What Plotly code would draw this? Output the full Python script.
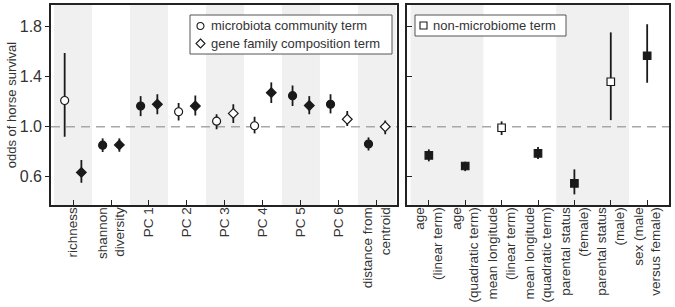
import plotly.graph_objects as go

# ---------------- data ----------------
micro_labels = ["richness", "shannon<br>diversity", "PC 1", "PC 2", "PC 3", "PC 4",
                "PC 5", "PC 6", "distance from<br>centroid"]
microbiota_est = [1.21, 0.853, 1.166, 1.12, 1.045, 1.008, 1.249, 1.18, 0.862]
microbiota_lo = [0.92, 0.798, 1.085, 1.05, 0.98, 0.947, 1.166, 1.107, 0.81]
microbiota_hi = [1.59, 0.907, 1.245, 1.19, 1.10, 1.08, 1.33, 1.26, 0.915]
microbiota_sig = [0, 1, 1, 0, 0, 0, 1, 1, 1]

gene_est = [0.635, 0.855, 1.18, 1.166, 1.107, 1.273, 1.17, 1.06, 1.0]
gene_lo = [0.552, 0.80, 1.10, 1.09, 1.03, 1.19, 1.10, 1.006, 0.94]
gene_hi = [0.734, 0.907, 1.26, 1.25, 1.18, 1.355, 1.245, 1.126, 1.05]
gene_sig = [1, 1, 1, 1, 0, 1, 1, 0, 0]

other_labels = ["age<br>(linear term)", "age<br>(quadratic term)",
                "mean longitude<br>(linear term)", "mean longitude<br>(quadratic term)",
                "parental status<br>(female)", "parental status<br>(male)",
                "sex (male<br>versus female)"]
other_est = [0.771, 0.686, 0.992, 0.787, 0.547, 1.36, 1.568]
other_lo = [0.723, 0.645, 0.934, 0.742, 0.459, 1.053, 1.352]
other_hi = [0.819, 0.72, 1.043, 0.838, 0.659, 1.755, 1.82]
other_sig = [1, 1, 0, 1, 1, 0, 1]

legend_left = ["microbiota community term", "gene family composition term"]
legend_right = ["non-microbiome term"]

y_ticks = [0.6, 1.0, 1.4, 1.8]
y_tick_text = ["0.6", "1.0", "1.4", "1.8"]

# ---------------- style / layout geometry ----------------
W, H = 675, 307
T, B = 5, 102                      # plot area top margin / bottom margin (px)
PH = H - T - B                     # plot area height
FONT = "Liberation Sans, Arial, sans-serif"
DARK = "#1a1a1a"
AX = "#222222"
TXT = "#333333"
SHADE = "#f0f0f0"
OFF = 0.22


def px_x(px):
    return px / W


def px_y(py):
    return 1 - (py - T) / PH


def fills(sig):
    return [DARK if s else "white" for s in sig]


def err(hi, est, lo):
    return dict(type="data", symmetric=False,
                array=[h - e for h, e in zip(hi, est)],
                arrayminus=[e - l for e, l in zip(est, lo)],
                color=DARK, thickness=1.8, width=0)


fig = go.Figure()
n_left = len(micro_labels)
n_right = len(other_labels)
xl = list(range(n_left))
xr = list(range(n_right))

fig.add_trace(go.Scatter(
    x=[i - OFF for i in xl], y=microbiota_est, mode="markers", name=legend_left[0],
    marker=dict(symbol="circle", size=8, color=fills(microbiota_sig),
                line=dict(color=DARK, width=1.2)),
    error_y=err(microbiota_hi, microbiota_est, microbiota_lo),
    showlegend=False, xaxis="x", yaxis="y"))

fig.add_trace(go.Scatter(
    x=[i + OFF for i in xl], y=gene_est, mode="markers", name=legend_left[1],
    marker=dict(symbol="diamond", size=7.5, color=fills(gene_sig),
                line=dict(color=DARK, width=1.2)),
    error_y=err(gene_hi, gene_est, gene_lo),
    showlegend=False, xaxis="x", yaxis="y"))

fig.add_trace(go.Scatter(
    x=xr, y=other_est, mode="markers", name=legend_right[0],
    marker=dict(symbol="square", size=7.5, color=fills(other_sig),
                line=dict(color=DARK, width=1.2)),
    error_y=err(other_hi, other_est, other_lo),
    showlegend=False, xaxis="x2", yaxis="y2"))

shapes = []
for i in range(0, n_left, 2):
    shapes.append(dict(type="rect", xref="x", yref="y domain", x0=i - 0.5, x1=i + 0.5,
                       y0=0, y1=1, fillcolor=SHADE, line=dict(width=0), layer="below"))
for i in range(0, n_right, 4):
    shapes.append(dict(type="rect", xref="x2", yref="y2 domain", x0=i - 0.5, x1=i + 1.5,
                       y0=0, y1=1, fillcolor=SHADE, line=dict(width=0), layer="below"))
for xa, ya in (("x", "y"), ("x2", "y2")):
    shapes.append(dict(type="line", xref=f"{xa} domain", yref=ya, x0=0, x1=1, y0=1, y1=1,
                       line=dict(color="#a8a8a8", width=1.5, dash="9px,6px"), layer="below"))

# ---- custom legends (boxes, symbols, labels) ----
annotations = []
def legend_box(x0, y0, x1, y1):
    shapes.append(dict(type="rect", xref="paper", yref="paper",
                       x0=px_x(x0), x1=px_x(x1), y0=px_y(y1), y1=px_y(y0),
                       fillcolor="white", line=dict(color="#555555", width=1)))

def legend_text(x, y, text):
    annotations.append(dict(text=text, x=px_x(x), y=px_y(y), xref="paper", yref="paper",
                            xanchor="left", yanchor="middle", showarrow=False,
                            font=dict(size=13, color=TXT)))

sym_line = dict(color=DARK, width=1.1)
legend_box(190, 15, 392, 54)
shapes.append(dict(type="circle", xref="paper", yref="paper",
                   x0=px_x(197), x1=px_x(204), y0=px_y(29.5), y1=px_y(22.5),
                   fillcolor="white", line=sym_line))
legend_text(209, 26, legend_left[0])
cx, cy, r = 200.5, 43.5, 4.5
shapes.append(dict(type="path", xref="paper", yref="paper",
                   path=(f"M {px_x(cx)} {px_y(cy - r)} L {px_x(cx + r)} {px_y(cy)} "
                         f"L {px_x(cx)} {px_y(cy + r)} L {px_x(cx - r)} {px_y(cy)} Z"),
                   fillcolor="white", line=sym_line))
legend_text(209, 43.5, legend_left[1])

legend_box(415, 15, 566, 36)
shapes.append(dict(type="rect", xref="paper", yref="paper",
                   x0=px_x(420), x1=px_x(427), y0=px_y(29), y1=px_y(22),
                   fillcolor="white", line=sym_line))
legend_text(431, 25.5, legend_right[0])

yrange = [0.374, 1.974]
axis_common = dict(showline=True, linecolor=AX, linewidth=1.6, mirror=True,
                   showgrid=False, zeroline=False, automargin=False)

fig.update_layout(
    width=W, height=H,
    margin=dict(l=0, r=0, t=T, b=B),
    paper_bgcolor="white", plot_bgcolor="white",
    font=dict(family=FONT, color=TXT, size=13),
    showlegend=False,
    xaxis=dict(domain=[px_x(51), px_x(397)], range=[-0.58, 8.53], tickmode="array",
               tickvals=xl, ticktext=micro_labels, tickangle=-90, ticks="inside",
               ticklen=5, tickcolor=AX, tickfont=dict(size=13.5, color=TXT),
               ticklabelstandoff=-5, **axis_common),
    yaxis=dict(range=yrange, tickmode="array", tickvals=y_ticks, ticktext=y_tick_text,
               ticks="outside", ticklen=4, tickcolor=AX,
               tickfont=dict(size=16, color=TXT),
               title=dict(text="odds of horse survival", font=dict(size=13, color=TXT),
                          standoff=0),
               **axis_common),
    xaxis2=dict(domain=[px_x(407), px_x(669)], range=[-0.6, 6.6], tickmode="array",
                tickvals=xr, ticktext=other_labels, tickangle=-90, ticks="inside",
                ticklen=5, tickcolor=AX, tickfont=dict(size=13.5, color=TXT),
                ticklabelstandoff=-5, anchor="y2", **axis_common),
    yaxis2=dict(range=yrange, tickmode="array", tickvals=y_ticks, showticklabels=False,
                ticks="inside", ticklen=5, tickcolor=AX, anchor="x2", **axis_common),
    shapes=shapes,
    annotations=annotations,
)

fig.write_html("out.html", config={"displayModeBar": False},
               post_script="document.body.style.margin='0px';document.body.style.padding='0px';")
